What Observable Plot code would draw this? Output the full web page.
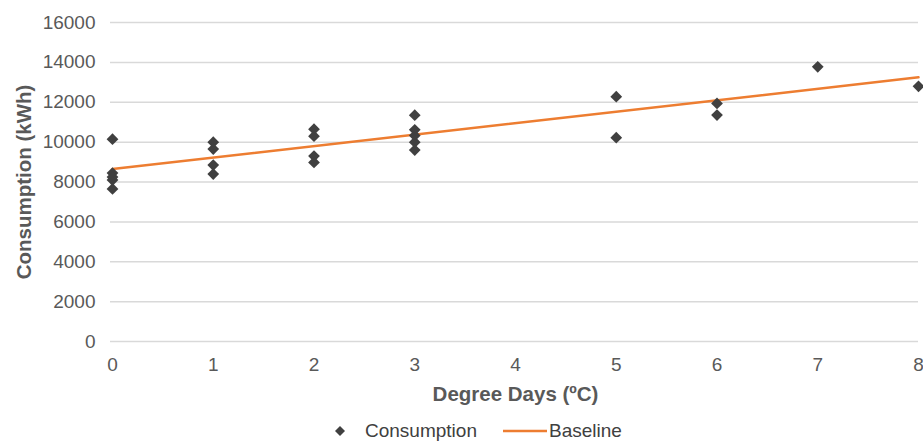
<!DOCTYPE html>
<html>
<head>
<meta charset="utf-8">
<script src="https://cdn.jsdelivr.net/npm/d3@7"></script>
<script src="https://cdn.jsdelivr.net/npm/@observablehq/plot@0.6"></script>
<style>
  body { margin: 0; background: #fff; font-family: "Liberation Sans", Arial, sans-serif; }
  #wrap { position: relative; width: 923px; height: 442px; overflow: hidden; }
  #legend { position: absolute; top: 419px; left: 0; width: 923px; height: 24px; font-size: 19px; color: #404040; }
  #legend .item { position: absolute; top: 0; height: 24px; line-height: 24px; display: flex; align-items: center; }
</style>
</head>
<body>
<div id="wrap">
  <div id="chart"></div>
  <div id="legend">
    <div class="item" style="left:334px;"><svg width="12" height="12" style="margin-right:19px"><path d="M6,1L11,6L6,11L1,6Z" fill="#404040"/></svg><span>Consumption</span></div>
    <div class="item" style="left:503px;"><svg width="44" height="14" style="margin-right:2px"><line x1="0" y1="7" x2="44" y2="7" stroke="#ED7D31" stroke-width="2.5"/></svg><span>Baseline</span></div>
  </div>
</div>
<script>
const degreeDays  = [0, 0, 0, 0, 0, 1, 1, 1, 1, 2, 2, 2, 2, 3, 3, 3, 3, 3, 5, 5, 6, 6, 7, 8];
const consumption = [10150, 8450, 8250, 8100, 7650, 10000, 9650, 8850, 8400, 10650, 10300, 9300, 8980, 11350, 10620, 10330, 10000, 9600, 12280, 10220, 11940, 11360, 13780, 12800];
const baselineX = [0, 8];
const baselineY = [8650, 13250];
const yTicks = [0, 2000, 4000, 6000, 8000, 10000, 12000, 14000, 16000];
const xTicks = [0, 1, 2, 3, 4, 5, 6, 7, 8];

const points = degreeDays.map((d, i) => ({x: d, y: consumption[i]}));
const baseline = baselineX.map((d, i) => ({x: d, y: baselineY[i]}));

const chart = Plot.plot({
  width: 923,
  height: 418,
  marginLeft: 112,
  marginRight: 5,
  marginTop: 22,
  marginBottom: 77,
  style: {fontFamily: "Liberation Sans, Arial, sans-serif", fontSize: "19px", color: "#595959", background: "#fff", overflow: "visible"},
  x: {domain: [0, 8], ticks: xTicks, label: null},
  y: {domain: [0, 16000], ticks: yTicks, label: null},
  marks: [
    Plot.ruleY(yTicks, {stroke: "#d9d9d9", strokeWidth: 1.5, x1: 0, x2: 8, insetLeft: -2}),
    Plot.axisY(yTicks, {tickSize: 0, tickPadding: 17, tickFormat: d => String(d), fontSize: 19, fill: "#595959"}),
    Plot.axisX(xTicks, {tickSize: 0, tickPadding: 16, fontSize: 19, fill: "#595959"}),
    Plot.text(["Consumption (kWh)"], {frameAnchor: "left", textAnchor: "middle", dx: -88, rotate: -90, fontWeight: "bold", fontSize: 20.5, fill: "#595959"}),
    Plot.text(["Degree Days (ºC)"], {frameAnchor: "bottom", dy: 59, fontWeight: "bold", fontSize: 20.5, fill: "#595959"}),
    Plot.line(baseline, {x: "x", y: "y", stroke: "#ED7D31", strokeWidth: 2.5}),
    Plot.dot(points, {x: "x", y: "y", symbol: "diamond2", r: 5.3, fill: "#404040", stroke: "none"})
  ]
});
document.getElementById("chart").appendChild(chart);
</script>
</body>
</html>
